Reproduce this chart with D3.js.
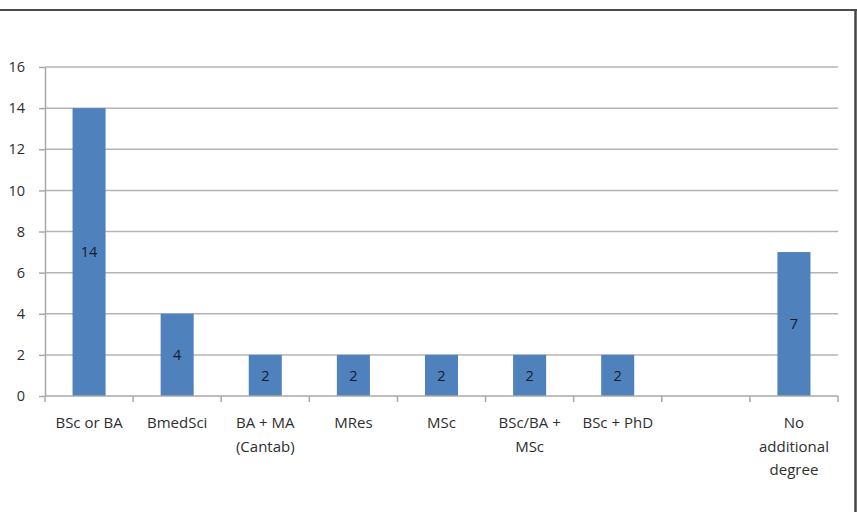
<!DOCTYPE html>
<html>
<head>
<meta charset="utf-8">
<script src="https://cdn.jsdelivr.net/npm/d3@7"></script>
<style>
  html, body { margin: 0; padding: 0; background: #fff; }
  svg { display: block; }
</style>
</head>
<body>
<svg id="chart" width="857" height="512"></svg>
<script>
// Degree categories (each inner array is one wrapped label line) and counts
const categories = [
  ["BSc or BA"],
  ["BmedSci"],
  ["BA + MA", "(Cantab)"],
  ["MRes"],
  ["MSc"],
  ["BSc/BA +", "MSc"],
  ["BSc + PhD"],
  [""],
  ["No", "additional", "degree"]
];
const counts = [14, 4, 2, 2, 2, 2, 2, null, 7];
const yTicks = [0, 2, 4, 6, 8, 10, 12, 14, 16];

const W = 857, H = 512;
const margin = { left: 45, right: 19, top: 67, bottom: 116 };
const svg = d3.select("#chart");
const font = "'Open Sans', 'Noto Sans', sans-serif";

const keys = categories.map((c, i) => i);
const x = d3.scaleBand().domain(keys).range([margin.left, W - margin.right]).padding(0);
const y = d3.scaleLinear().domain([0, 16]).range([H - margin.bottom, margin.top]);

// frame: top rule and right edge
svg.append("line").attr("x1", 0).attr("x2", W).attr("y1", 10).attr("y2", 10)
  .attr("stroke", "#111").attr("stroke-width", 1.5);
svg.append("line").attr("x1", 855.5).attr("x2", 855.5).attr("y1", 10).attr("y2", H)
  .attr("stroke", "#444").attr("stroke-width", 2.5);

// horizontal gridlines
svg.append("g").selectAll("line").data(yTicks.filter(t => t > 0)).join("line")
  .attr("x1", margin.left).attr("x2", W - margin.right)
  .attr("y1", d => y(d)).attr("y2", d => y(d))
  .attr("stroke", "#b4b4b4").attr("stroke-width", 1.5);

// y axis
const yAxis = svg.append("g").attr("transform", `translate(${margin.left},0)`)
  .call(d3.axisLeft(y).tickValues(yTicks).tickSize(6).tickPadding(14).tickSizeOuter(0));
yAxis.select(".domain").attr("stroke", "#a8a8a8").attr("stroke-width", 1.5);
yAxis.selectAll(".tick line").attr("stroke", "#a8a8a8").attr("stroke-width", 1.5);
yAxis.selectAll(".tick text").attr("font-family", font).attr("font-size", 14.5)
  .attr("fill", "#2e2e2e");

// bars
const barW = x.bandwidth() * 0.375;
const data = keys.filter(i => counts[i] != null);
svg.append("g").selectAll("rect").data(data).join("rect")
  .attr("x", i => x(i) + (x.bandwidth() - barW) / 2)
  .attr("width", barW)
  .attr("y", i => y(counts[i]))
  .attr("height", i => y(0) - y(counts[i]))
  .attr("fill", "#4f81bd");

// value labels at mid-bar
svg.append("g").selectAll("text").data(data).join("text")
  .attr("x", i => x(i) + x.bandwidth() / 2)
  .attr("y", i => y(counts[i] / 2))
  .attr("dy", "0.35em")
  .attr("text-anchor", "middle")
  .attr("font-family", font).attr("font-size", 14.5)
  .attr("fill", "#141c2c")
  .text(i => counts[i]);

// x axis with category boundary ticks
const xAxisG = svg.append("g").attr("transform", `translate(0,${y(0)})`);
xAxisG.append("line").attr("x1", margin.left).attr("x2", W - margin.right)
  .attr("stroke", "#a8a8a8").attr("stroke-width", 1.5);
const bounds = keys.map(i => x(i)).concat([x(keys[keys.length - 1]) + x.bandwidth()]);
xAxisG.selectAll("line.tk").data(bounds).join("line").attr("class", "tk")
  .attr("x1", d => d).attr("x2", d => d).attr("y1", 0).attr("y2", 6)
  .attr("stroke", "#a8a8a8").attr("stroke-width", 1.5);

// category labels
const labels = svg.append("g").selectAll("text").data(keys).join("text")
  .attr("text-anchor", "middle")
  .attr("font-family", font).attr("font-size", 15)
  .attr("fill", "#2e2e2e")
  .attr("transform", i => `translate(${x(i) + x.bandwidth() / 2},${y(0) + 32})`);
labels.selectAll("tspan").data(i => categories[i]).join("tspan")
  .attr("x", 0).attr("y", (d, j) => j * 23.5)
  .text(d => d);
</script>
</body>
</html>
